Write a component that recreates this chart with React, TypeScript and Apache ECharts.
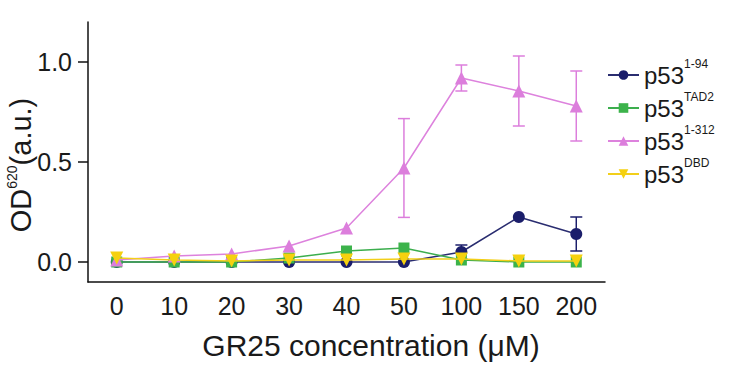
import React, { useEffect, useRef } from "react";
import * as echarts from "echarts";

const categories = ["0", "10", "20", "30", "40", "50", "100", "150", "200"];
const seriesNames = ["p53 1-94", "p53 TAD2", "p53 1-312", "p53 DBD"];
const p53_1_94 = [0.0, 0.0, 0.0, 0.0, 0.0, 0.0, 0.05, 0.225, 0.14];
const err_1_94 = [0, 0, 0, 0, 0, 0, 0.035, 0, 0.085];
const p53_tad2 = [0.0, 0.0, 0.0, 0.02, 0.055, 0.07, 0.01, 0.0, 0.0];
const err_tad2 = [0, 0, 0, 0, 0, 0, 0, 0, 0];
const p53_1_312 = [0.01, 0.03, 0.04, 0.08, 0.17, 0.47, 0.92, 0.855, 0.78];
const err_1_312 = [0, 0, 0, 0, 0, 0.247, 0.065, 0.175, 0.175];
const p53_dbd = [0.02, 0.01, 0.005, 0.01, 0.01, 0.015, 0.015, 0.005, 0.005];
const err_dbd = [0, 0, 0, 0, 0, 0, 0, 0, 0];
const yTicks = [0, 0.5, 1.0];

const colors = ["#1b1e6b", "#3cb34b", "#dc7edc", "#f5d10f"];
const lineColors = ["#2a2d70", "#3cae4e", "#dd82dd", "#f2cf1a"];
const symbols = ["circle", "rect", "triangle", "triangle"];
const symbolRotates = [0, 0, 0, 180];
const symbolSizes = [12, 11, 13, 13];
const FONT = '"Liberation Sans", Arial, Helvetica, sans-serif';
const TXT = "#1a1a1a";

export default function App() {
  const ref = useRef<HTMLDivElement>(null);
  useEffect(() => {
    if (!ref.current) return;
    const chart = echarts.init(ref.current, undefined, { renderer: "svg" });
    const values = [p53_1_94, p53_tad2, p53_1_312, p53_dbd];
    const errs = [err_1_94, err_tad2, err_1_312, err_dbd];

    const lineSeries: any[] = values.map((v, i) => ({
      name: seriesNames[i],
      type: "line",
      data: v,
      symbol: symbols[i],
      symbolRotate: symbolRotates[i],
      symbolSize: symbolSizes[i],
      lineStyle: { color: lineColors[i], width: 1.5 },
      itemStyle: { color: colors[i] },
      z: 3 + i,
    }));

    const errSeries: any[] = errs.map((e, i) => ({
      name: "err" + i,
      type: "custom",
      z: 3 + i,
      data: e
        .map((ev, j) => (ev > 0 ? [j, values[i][j] - ev, values[i][j] + ev] : null))
        .filter((d) => d !== null),
      encode: { x: 0, y: [1, 2] },
      renderItem: (params: any, api: any) => {
        const x = api.value(0);
        const lo = api.coord([x, api.value(1)]);
        const hi = api.coord([x, api.value(2)]);
        const w = 6;
        const style = { stroke: colors[i], lineWidth: 1.5 };
        return {
          type: "group",
          children: [
            { type: "line", shape: { x1: hi[0], y1: hi[1], x2: lo[0], y2: lo[1] }, style },
            { type: "line", shape: { x1: hi[0] - w, y1: hi[1], x2: hi[0] + w, y2: hi[1] }, style },
            { type: "line", shape: { x1: lo[0] - w, y1: lo[1], x2: lo[0] + w, y2: lo[1] }, style },
          ],
        };
      },
    }));

    chart.setOption({
      animation: false,
      backgroundColor: "#ffffff",
      grid: { left: 88, right: 137, top: 22, bottom: 86 },
      legend: {
        data: seriesNames,
        orient: "vertical",
        left: 607,
        top: 58,
        padding: 0,
        itemGap: 4,
        itemWidth: 31,
        itemHeight: 12,
        formatter: (name: string) => {
          const parts = name.split(" ");
          return `{a|${parts[0]}}{b|${parts[1]}}`;
        },
        textStyle: {
          fontFamily: FONT,
          color: TXT,
          rich: {
            a: { fontSize: 24, lineHeight: 34, fontFamily: FONT, color: TXT },
            b: { fontSize: 12, lineHeight: 12, verticalAlign: "top", fontFamily: FONT, color: TXT },
          },
        },
      },
      xAxis: {
        type: "category",
        data: categories,
        boundaryGap: true,
        axisLine: { onZero: false, lineStyle: { color: "#111", width: 1.5 } },
        axisTick: { alignWithLabel: true, length: 10, lineStyle: { color: "#111", width: 1.5 } },
        axisLabel: { fontSize: 25, fontFamily: FONT, color: TXT, margin: 11 },
        splitLine: { show: false },
      },
      yAxis: {
        type: "value",
        min: -0.1,
        max: 1.2,
        axisLine: { show: true, lineStyle: { color: "#111", width: 1.5 } },
        axisTick: { show: true, length: 10, customValues: yTicks, lineStyle: { color: "#111", width: 1.5 } },
        axisLabel: {
          fontSize: 25,
          fontFamily: FONT,
          color: TXT,
          margin: 16,
          customValues: yTicks,
          formatter: (v: number) => v.toFixed(1),
        },
        splitLine: { show: false },
      },
      graphic: [
        {
          type: "text",
          x: 371,
          y: 330,
          style: {
            text: "GR25 concentration (μM)",
            fontSize: 30,
            fontFamily: FONT,
            fill: TXT,
            textAlign: "center",
            textVerticalAlign: "top",
          },
        },
        {
          type: "text",
          x: 21,
          y: 165,
          rotation: Math.PI / 2,
          style: {
            text: "{a|OD}{b|620}{a|(a.u.)}",
            fontFamily: FONT,
            fill: TXT,
            textAlign: "center",
            textVerticalAlign: "middle",
            rich: {
              a: { fontSize: 29, lineHeight: 32, fontFamily: FONT, fill: TXT },
              b: { fontSize: 14, lineHeight: 14, verticalAlign: "top", fontFamily: FONT, fill: TXT },
            },
          },
        },
      ],
      series: [...lineSeries, ...errSeries],
    });
    return () => chart.dispose();
  }, []);
  return (
    <div
      ref={ref}
      style={{ position: "fixed", left: 0, top: 0, width: 742, height: 368 }}
    />
  );
}
